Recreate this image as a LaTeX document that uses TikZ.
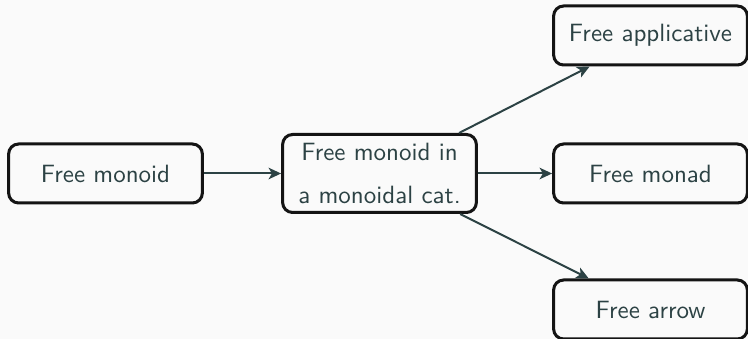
\documentclass[tikz,border=0pt]{standalone}
\usepackage{tikz}
\usetikzlibrary{arrows.meta}
\definecolor{slateink}{RGB}{44, 66, 68}
\definecolor{boxedge}{RGB}{20, 20, 20}
\definecolor{paper}{RGB}{250, 250, 250}
\tikzset{
  freebox/.style={draw=boxedge, line width=1.2pt, rounded corners=4pt,
    fill=paper, text=slateink, font=\sffamily, align=center,
    minimum width=77.5pt, minimum height=23.6pt, inner sep=2pt},
  freearrow/.style={-{Stealth[length=5pt, width=4.6pt, inset=1.3pt]},
    slateink, line width=0.8pt}
}

\begin{document}
\begin{tikzpicture}[x=0.4pt, y=-0.4pt]
    %% page with its margins
    \fill[paper] (0,0) rectangle (748,339);
    \useasboundingbox (0,0) rectangle (748,339);

    %% boxes
    \node[freebox] (monoid) at (105.5,173.5) {Free monoid};
    \node[freebox, minimum height=31.2pt] (moncat) at (379.5,173.5)
      {Free monoid in\\[5.5pt]a monoidal cat.};
    \node[freebox] (applic) at (650.5,35.5) {Free applicative};
    \node[freebox] (monad) at (650.5,173.5) {Free monad};
    \node[freebox] (arrow) at (650.5,309.5) {Free arrow};

    %% connectors
    \draw[freearrow] (monoid) -- (moncat);
    \draw[freearrow] (moncat) -- (applic);
    \draw[freearrow] (moncat) -- (monad);
    \draw[freearrow] (moncat) -- (arrow);
\end{tikzpicture}
\end{document}
